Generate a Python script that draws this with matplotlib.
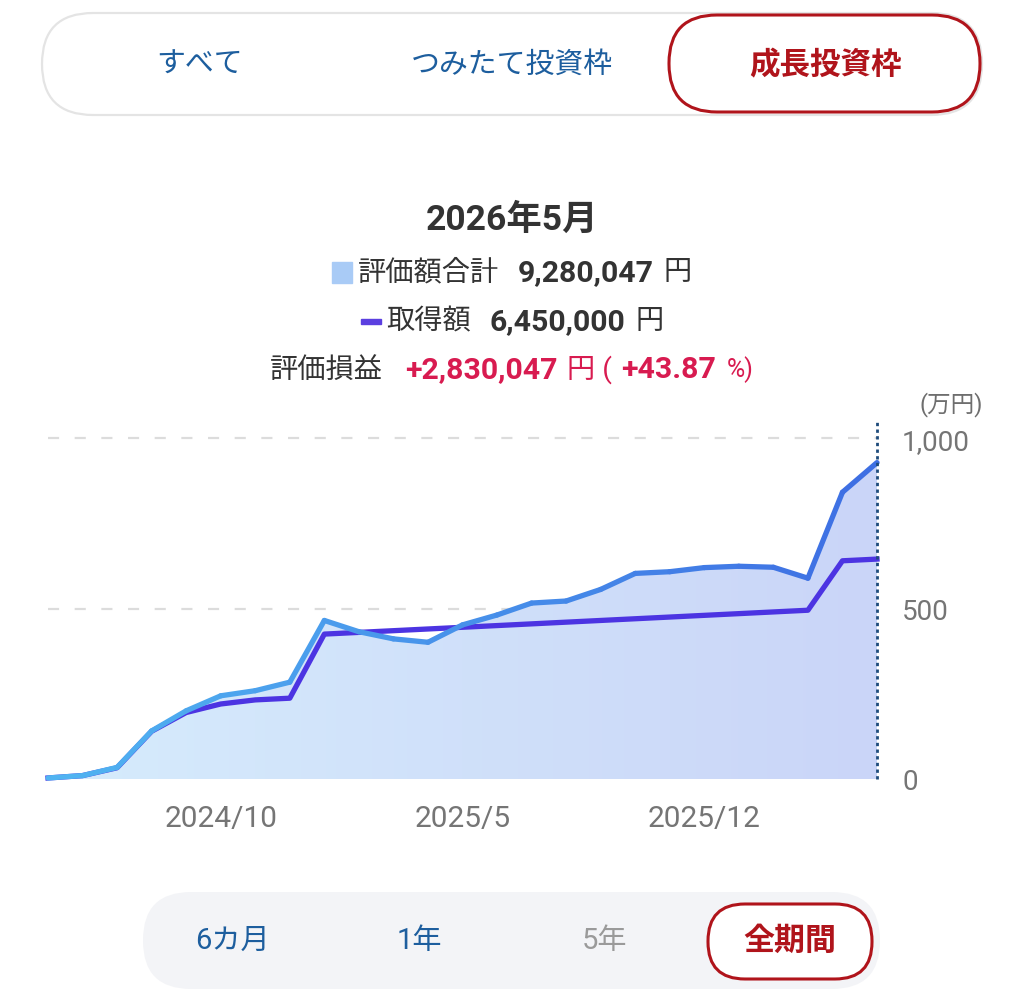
import numpy as np
import matplotlib.pyplot as plt
from matplotlib.patches import FancyBboxPatch, Rectangle
from matplotlib.collections import LineCollection
from matplotlib.colors import LinearSegmentedColormap, to_rgb

# データ（万円）
months = ['2024/5', '2024/6', '2024/7', '2024/8', '2024/9', '2024/10', '2024/11',
          '2024/12', '2025/1', '2025/2', '2025/3', '2025/4', '2025/5', '2025/6',
          '2025/7', '2025/8', '2025/9', '2025/10', '2025/11', '2025/12', '2026/1',
          '2026/2', '2026/3', '2026/4', '2026/5']
hyouka = [3, 10, 34, 141, 200, 244, 259, 284, 465, 432, 411, 401, 452, 481,
          516, 522, 556, 603, 608, 620, 624, 621, 589, 841, 928]
shutoku = [3, 10, 33, 140, 195, 220, 232, 237, 425, 430, 435, 440, 445, 450,
           455, 460, 465, 470, 475, 480, 485, 490, 495, 640, 645]
xtick_labels = ['2024/10', '2025/5', '2025/12']
yticks = [0, 500, 1000]
ytick_labels = ['0', '500', '1,000']
tabs = ['すべて', 'つみたて投資枠', '成長投資枠']
periods = ['6カ月', '1年', '5年', '全期間']

FONT = ['Roboto', 'Noto Sans CJK JP']
plt.rcParams['font.family'] = FONT

W, H = 1024, 1004
fig = plt.figure(figsize=(W / 100, H / 100), dpi=100)

# 背景用（ピクセル座標）
bg = fig.add_axes([0, 0, 1, 1])
bg.set_xlim(0, W)
bg.set_ylim(H, 0)
bg.axis('off')
bg.set_zorder(0)

RED = '#B0141B'
BLUE_TXT = '#1D5E9E'
DARK = '#333333'
PINK = '#D81B50'


def rbox(x0, y0, x1, y1, r, fc, ec, lw):
    p = FancyBboxPatch((x0, y0), x1 - x0, y1 - y0,
                       boxstyle=f'round,pad=0,rounding_size={r}',
                       fc=fc, ec=ec, lw=lw)
    bg.add_patch(p)


# 上のタブ
rbox(42, 14, 982, 116, 51, 'white', '#E4E4E4', 1.6)
rbox(669, 16, 980, 113, 48, 'white', RED, 2.2)
bg.text(200, 65, tabs[0], fontsize=20.8, color=BLUE_TXT, ha='center', va='center')
bg.text(512, 65, tabs[1], fontsize=20.8, color=BLUE_TXT, ha='center', va='center')
bg.text(825, 65, tabs[2], fontsize=22, color=RED, fontweight='bold', ha='center', va='center')

# タイトル
bg.text(512, 220, '2026年5月', fontsize=25.5, fontweight='bold', color=DARK,
        ha='center', va='center')

renderer = fig.canvas.get_renderer()


def runs(cy, parts, cx=512):
    items = []
    for p in parts:
        if p[0] == 'shape':
            items.append((p, p[1], None))
            continue
        s, size, weight, color, gap = p
        t = bg.text(0, cy, s, fontsize=size, fontweight=weight, color=color,
                    ha='left', va='center')
        w = t.get_window_extent(renderer).width
        items.append((p, w, t))
    total = sum(w for _, w, _ in items) + sum(p[-1] for p, _, _ in items)
    x = cx - total / 2
    out = []
    for p, w, t in items:
        x += p[-1]
        if t is not None:
            t.set_x(x)
        out.append(x)
        x += w
    return out


xs = runs(273, [('shape', 20, 0), ('評価額合計', 20.3, 'normal', DARK, 6),
                ('9,280,047', 21.8, 'bold', DARK, 18), ('円', 20.3, 'normal', DARK, 10)])
bg.add_patch(Rectangle((xs[0], 263), 20, 21, color='#A9CBF6'))

xs = runs(322, [('shape', 20, 0), ('取得額', 20.3, 'normal', DARK, 6),
                ('6,450,000', 21.8, 'bold', DARK, 18), ('円', 20.3, 'normal', DARK, 10)])
bg.add_patch(Rectangle((xs[0], 320), 20, 5, color='#5B3FE0'))

runs(370, [('評価損益', 20.3, 'normal', DARK, 0),
           ('+2,830,047', 21.8, 'bold', PINK, 22), ('円 (', 20.3, 'normal', PINK, 10),
           ('+43.87', 21.8, 'bold', PINK, 9), ('%)', 18, 'normal', PINK, 11)])

# 下の期間切り替え
rbox(143, 893, 880, 990, 48, '#F3F4F7', 'none', 0)
rbox(708, 905, 872, 980, 37, 'white', RED, 2.2)
bg.text(232, 941, periods[0], fontsize=21, color=BLUE_TXT, ha='center', va='center')
bg.text(419, 941, periods[1], fontsize=21, color=BLUE_TXT, ha='center', va='center')
bg.text(604, 941, periods[2], fontsize=21, color='#9A9A9A', ha='center', va='center')
bg.text(790, 941, periods[3], fontsize=22.3, color=RED, fontweight='bold', ha='center', va='center')

# グラフ本体
ax = fig.add_axes([48 / W, 1 - 780 / H, 829 / W, 358 / H])
ax.set_zorder(1)
ax.patch.set_alpha(0)

x = np.arange(len(months))
ymax = 1050

for v in [0, 500, 1000]:
    ax.axhline(v, color='#DCDCDC', lw=1.6, ls=(0, (5, 7)), zorder=0)

# 塗りつぶし（グラデーション）
poly = ax.fill_between(x, hyouka, 0, color='none', lw=0)
fill_cmap = LinearSegmentedColormap.from_list('fill', ['#D6ECFC', '#CAD5F8'])
grad = np.linspace(0, 1, 256).reshape(1, -1)
img = ax.imshow(grad, extent=[0, 24, 0, ymax], aspect='auto', cmap=fill_cmap,
                origin='lower', zorder=1)
img.set_clip_path(poly.get_paths()[0], ax.transData)

# 取得額
ax.plot(x, shutoku, color='#4C34E2', lw=3.8, zorder=2, solid_joinstyle='round',
        clip_on=False)

# 評価額（線のグラデーション）
c0, c1 = np.array(to_rgb('#50B4F1')), np.array(to_rgb('#3E6EE3'))
segs = [[(x[i], hyouka[i]), (x[i + 1], hyouka[i + 1])] for i in range(len(x) - 1)]
cols = [c0 + (c1 - c0) * (i + 0.5) / (len(x) - 1) for i in range(len(x) - 1)]
lc = LineCollection(segs, colors=cols, linewidths=3.8, capstyle='round',
                    joinstyle='round', zorder=3, clip_on=False)
ax.add_collection(lc)

ax.axvline(24, color='#1E4B7B', lw=2, ls=(0, (1.2, 1.2)), zorder=4, clip_on=False)

ax.set_xlim(0, 24)
ax.set_ylim(0, ymax)
ax.set_xticks([months.index(m) for m in xtick_labels])
ax.set_xticklabels(xtick_labels, fontsize=21.5, color='#757575')
ax.set_yticks(yticks)
ax.set_yticklabels(ytick_labels, fontsize=20, color='#757575')
ax.yaxis.tick_right()
ax.tick_params(axis='x', length=0, pad=18)
ax.tick_params(axis='y', length=0, pad=18)
for s in ax.spines.values():
    s.set_visible(False)

bg.text(951, 405, '(万円)', fontsize=17, color='#6E6E6E', ha='center', va='center')

fig.savefig('out.png', dpi=100, facecolor='white')
